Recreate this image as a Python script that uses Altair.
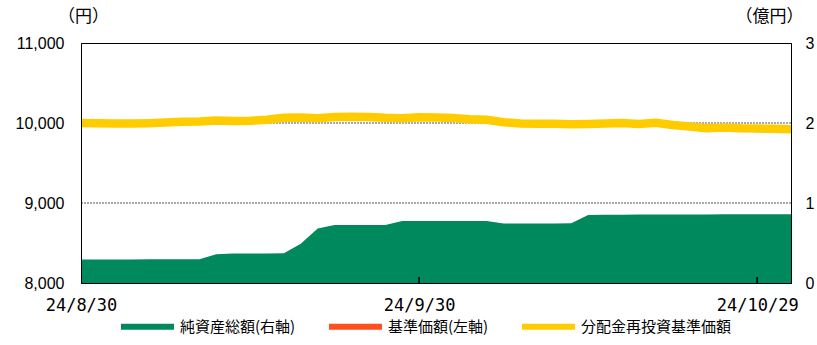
import altair as alt
import pandas as pd

# ---- data ----
dates = [
    "24/8/30",
    "24/9/2", "24/9/3", "24/9/4", "24/9/5", "24/9/6",
    "24/9/9", "24/9/10", "24/9/11", "24/9/12", "24/9/13",
    "24/9/17", "24/9/18", "24/9/19", "24/9/20",
    "24/9/23", "24/9/24", "24/9/25", "24/9/26", "24/9/27",
    "24/9/30",
    "24/10/1", "24/10/2", "24/10/3", "24/10/4",
    "24/10/7", "24/10/8", "24/10/9", "24/10/10", "24/10/11",
    "24/10/15", "24/10/16", "24/10/17", "24/10/18",
    "24/10/21", "24/10/22", "24/10/23", "24/10/24", "24/10/25",
    "24/10/28", "24/10/29", "24/10/30", "24/10/31",
]

# 純資産総額 (億円, right axis)
net_assets = [
    0.295, 0.295, 0.295, 0.295, 0.296, 0.296, 0.297, 0.297,
    0.358, 0.370, 0.370, 0.370, 0.371,
    0.490, 0.680, 0.725, 0.725, 0.725, 0.726,
    0.775, 0.775, 0.775, 0.775, 0.776, 0.776,
    0.745, 0.745, 0.745, 0.745, 0.746,
    0.850, 0.852, 0.853, 0.855, 0.856, 0.856, 0.857, 0.857,
    0.858, 0.858, 0.859, 0.860, 0.860,
]

# 基準価額 (円, left axis)
base_price = [
    10000, 9998, 9995, 9995, 9998, 10005, 10015, 10020,
    10030, 10025, 10028, 10040, 10065, 10068, 10060, 10075,
    10078, 10075, 10065, 10060, 10072, 10070, 10062, 10048,
    10040, 10010, 9995, 9992, 9990, 9985, 9988, 9995,
    10000, 9988, 10002, 9975, 9955, 9935, 9945, 9935,
    9930, 9928, 9922,
]

# 分配金再投資基準価額 (円, left axis)
reinvested_price = [
    10000, 9998, 9995, 9995, 9998, 10005, 10015, 10020,
    10030, 10025, 10028, 10040, 10065, 10068, 10060, 10075,
    10078, 10075, 10065, 10060, 10072, 10070, 10062, 10048,
    10040, 10010, 9995, 9992, 9990, 9985, 9988, 9995,
    10000, 9988, 10002, 9975, 9955, 9935, 9945, 9935,
    9930, 9928, 9922,
]

x_tick_labels = ["24/8/30", "24/9/30", "24/10/29"]
inner_ticks = ["24/9/30", "24/10/29"]
left_ticks = [8000, 9000, 10000, 11000]
right_ticks = [0, 1, 2, 3]
grid_values = [9000, 10000]

series_names = ["純資産総額(右軸)", "基準価額(左軸)", "分配金再投資基準価額"]
series_colors = ["#00895C", "#FF4F1F", "#FFCC00"]

# ---- tables ----
df_assets = pd.DataFrame({"date": dates, "value": net_assets, "series": series_names[0]})
df_price = pd.DataFrame({"date": dates, "nav": base_price, "reinv": reinvested_price})
df_grid = pd.DataFrame({"g": grid_values})
df_ticks = pd.DataFrame({"date": inner_ticks})

x_scale = alt.Scale(type="point", domain=dates, padding=0)
x_axis = alt.Axis(
    values=x_tick_labels, labelAngle=0, title=None, tickSize=0, ticks=False,
    domain=True, domainColor="black", domainWidth=1, zindex=1,
    labelFont="DejaVu Sans Mono", labelFontSize=17, labelPadding=14,
    labelColor="black", grid=False,
)
x_enc = alt.X("date:O", scale=x_scale, axis=x_axis)

left_scale = alt.Scale(domain=[8000, 11000], nice=False, zero=False)
left_axis = alt.Axis(
    orient="left", values=left_ticks, format=",d", title="（円）",
    titleAngle=0, titleAlign="center", titleBaseline="middle",
    titleX=2, titleY=-27, titleFont="Noto Sans CJK JP", titleFontSize=17,
    titleFontWeight="normal", titleColor="black",
    labelFont="Liberation Sans", labelFontSize=16, labelColor="black",
    labelPadding=17, ticks=False, tickSize=0, grid=False,
    domain=True, domainColor="black", domainWidth=1, zindex=1,
)

right_scale = alt.Scale(domain=[0, 3], nice=False, zero=True)
right_axis = alt.Axis(
    orient="right", values=right_ticks, format="d", title="（億円）",
    titleAngle=0, titleAlign="center", titleBaseline="middle",
    titleX=-22, titleY=-27, titleFont="Noto Sans CJK JP", titleFontSize=17,
    titleFontWeight="normal", titleColor="black",
    labelFont="Liberation Sans", labelFontSize=16, labelColor="black",
    labelPadding=14, ticks=False, tickSize=0, grid=False,
    domain=True, domainColor="black", domainWidth=1, zindex=1,
)

legend = alt.Legend(
    orient="none", legendX=40, legendY=257, direction="horizontal", columns=3,
    title=None, symbolType="M-1,-0.11L1,-0.11L1,0.11L-1,0.11Z", symbolSize=2809,
    symbolStrokeWidth=0, labelFont="Noto Sans CJK JP", labelFontSize=15,
    labelColor="black", labelOffset=6, columnPadding=33, padding=0,
)

area = alt.Chart(df_assets).mark_area(interpolate="linear").encode(
    x=x_enc,
    y=alt.Y("value:Q", scale=right_scale, axis=right_axis),
    color=alt.Color("series:N",
                    scale=alt.Scale(domain=series_names, range=series_colors),
                    legend=legend),
)

grid = alt.Chart(df_grid).mark_rule(color="#555555", strokeWidth=1, strokeDash=[2, 1]).encode(
    y=alt.Y("g:Q", scale=left_scale, axis=left_axis),
)

red = alt.Chart(df_price).mark_line(color=series_colors[1], strokeWidth=3).encode(
    x=x_enc,
    y=alt.Y("nav:Q", scale=left_scale, axis=left_axis),
)

yellow = alt.Chart(df_price).mark_line(
    color=series_colors[2], strokeWidth=8.5, strokeJoin="round", strokeCap="butt"
).encode(
    x=x_enc,
    y=alt.Y("reinv:Q", scale=left_scale, axis=left_axis),
)

tick_marks = alt.Chart(df_ticks).mark_rule(color="black", strokeWidth=1.5).encode(
    x=x_enc,
    y=alt.YDatum(8000, type="quantitative", scale=left_scale, axis=left_axis),
    y2=alt.Y2Datum(8075),
)

left_layer = alt.layer(grid, red, yellow, tick_marks)

chart = alt.layer(area, left_layer).resolve_scale(y="independent").properties(
    width=710, height=240,
    padding={"left": 81, "top": 43, "right": 26, "bottom": 62},
    autosize=alt.AutoSizeParams(type="none"),
    background="white",
).configure_view(stroke="black", strokeWidth=1)

chart.save("out.html", embed_options={"renderer": "svg", "actions": False})
